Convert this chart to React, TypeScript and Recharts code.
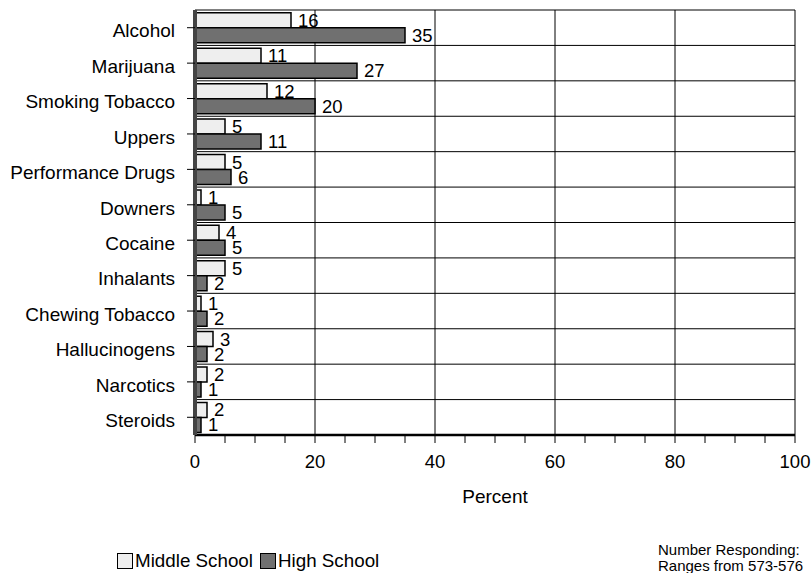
import React from 'react';
import { BarChart, Bar, XAxis, YAxis, CartesianGrid, LabelList } from 'recharts';

const categories = [
  'Alcohol',
  'Marijuana',
  'Smoking Tobacco',
  'Uppers',
  'Performance Drugs',
  'Downers',
  'Cocaine',
  'Inhalants',
  'Chewing Tobacco',
  'Hallucinogens',
  'Narcotics',
  'Steroids',
];
const middleSchool = [16, 11, 12, 5, 5, 1, 4, 5, 1, 3, 2, 2];
const highSchool = [35, 27, 20, 11, 6, 5, 5, 2, 2, 2, 1, 1];
const xTicks = [0, 5, 10, 15, 20, 25, 30, 35, 40, 45, 50, 55, 60, 65, 70, 75, 80, 85, 90, 95, 100];
const gridValues = [20, 40, 60, 80, 100];

const MS_FILL = '#eeeeee';
const HS_FILL = '#707070';
const FONT = '"Liberation Sans", Arial, sans-serif';

const data = categories.map((name, i) => ({ name, ms: middleSchool[i], hs: highSchool[i] }));

const LegendBox = () => (
  <div
    style={{
      position: 'absolute',
      left: 117,
      top: 550,
      display: 'flex',
      alignItems: 'center',
      fontFamily: FONT,
      fontSize: 18.8,
      color: '#000',
      whiteSpace: 'nowrap',
    }}
  >
    <span style={{ width: 14, height: 14, background: MS_FILL, border: '1px solid #000', display: 'inline-block', marginRight: 2 }} />
    <span style={{ marginRight: 7 }}>Middle School</span>
    <span style={{ width: 14, height: 14, background: HS_FILL, border: '1px solid #000', display: 'inline-block', marginRight: 2 }} />
    <span>High School</span>
  </div>
);

export default function App() {
  return (
    <div style={{ position: 'absolute', left: 0, top: 0, width: 812, height: 573, background: '#fff' }}>
      <BarChart
        width={812}
        height={573}
        data={data}
        layout="vertical"
        margin={{ top: 10, right: 17, bottom: 0, left: 0 }}
        barCategoryGap="8%"
        barGap={0}
      >
        <CartesianGrid
          stroke="#000"
          strokeWidth={1}
          horizontalCoordinatesGenerator={({ offset }: any) =>
            categories.map((_, i) => offset.top + (i * offset.height) / categories.length).concat([offset.top + offset.height])
          }
          verticalCoordinatesGenerator={({ offset }: any) =>
            gridValues.map((v) => offset.left + (offset.width * v) / 100)
          }
        />
        <XAxis
          type="number"
          domain={[0, 100]}
          ticks={xTicks}
          interval={0}
          tickFormatter={(v: number) => (v % 20 === 0 ? String(v) : '')}
          height={138}
          tickSize={8}
          tickMargin={12}
          axisLine={{ stroke: '#000', strokeWidth: 2.5 }}
          tickLine={{ stroke: '#000' }}
          tick={{ fill: '#000', fontSize: 18.5, fontFamily: FONT }}
          label={{ value: 'Percent', position: 'insideTop', offset: 55, fill: '#000', fontSize: 19, fontFamily: FONT }}
        />
        <YAxis
          type="category"
          dataKey="name"
          width={195}
          interval={0}
          tickSize={8}
          tickMargin={12}
          axisLine={{ stroke: '#444', strokeWidth: 4 }}
          tickLine={{ stroke: '#000' }}
          tick={{ fill: '#000', fontSize: 19, fontFamily: FONT, dy: 3 }}
        />
        <Bar dataKey="ms" name="Middle School" fill={MS_FILL} stroke="#000" strokeWidth={1.5} isAnimationActive={false}>
          <LabelList dataKey="ms" position="right" offset={7} fill="#000" fontSize={18.5} fontFamily={FONT} />
        </Bar>
        <Bar dataKey="hs" name="High School" fill={HS_FILL} stroke="#000" strokeWidth={1.5} isAnimationActive={false}>
          <LabelList dataKey="hs" position="right" offset={7} fill="#000" fontSize={18.5} fontFamily={FONT} />
        </Bar>
      </BarChart>
      <LegendBox />
      <div
        style={{
          position: 'absolute',
          left: 658,
          top: 542,
          fontFamily: FONT,
          fontSize: 15,
          lineHeight: '16px',
          color: '#000',
          whiteSpace: 'nowrap',
        }}
      >
        Number Responding:
        <br />
        Ranges from 573-576
      </div>
    </div>
  );
}
